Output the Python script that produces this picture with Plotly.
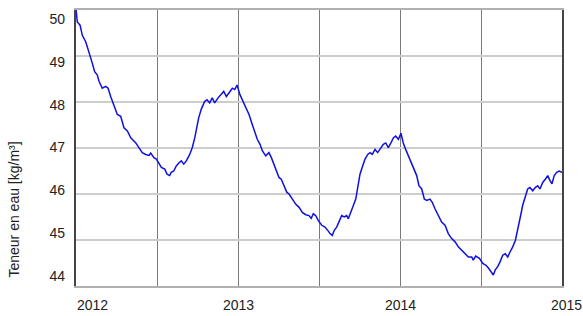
import plotly.graph_objects as go

# Decimal years
years = [
    2012.000, 2012.008, 2012.025, 2012.039, 2012.060, 2012.074, 2012.086, 2012.101, 2012.115, 2012.131,
    2012.142, 2012.162, 2012.183, 2012.198, 2012.214, 2012.235, 2012.255, 2012.276, 2012.296, 2012.317,
    2012.338, 2012.369, 2012.389, 2012.409, 2012.430, 2012.451, 2012.461, 2012.481, 2012.496, 2012.512,
    2012.527, 2012.548, 2012.562, 2012.578, 2012.588, 2012.603, 2012.619, 2012.636, 2012.650, 2012.665,
    2012.681, 2012.702, 2012.718, 2012.733, 2012.743, 2012.757, 2012.773, 2012.794, 2012.809, 2012.825,
    2012.841, 2012.856, 2012.877, 2012.897, 2012.912, 2012.928, 2012.949, 2012.965, 2012.980, 2012.994,
    2013.012, 2013.033, 2013.054, 2013.068, 2013.088, 2013.103, 2013.119, 2013.136, 2013.150, 2013.171,
    2013.191, 2013.206, 2013.222, 2013.239, 2013.253, 2013.267, 2013.284, 2013.301, 2013.315, 2013.335,
    2013.356, 2013.377, 2013.397, 2013.418, 2013.438, 2013.452, 2013.465, 2013.480, 2013.496, 2013.517,
    2013.537, 2013.554, 2013.568, 2013.582, 2013.594, 2013.609, 2013.623, 2013.640, 2013.656, 2013.671,
    2013.681, 2013.698, 2013.712, 2013.727, 2013.739, 2013.753, 2013.767, 2013.784, 2013.801, 2013.815,
    2013.829, 2013.846, 2013.862, 2013.877, 2013.897, 2013.912, 2013.928, 2013.944, 2013.959, 2013.973,
    2013.990, 2014.006, 2014.020, 2014.035, 2014.051, 2014.068, 2014.088, 2014.103, 2014.117, 2014.134,
    2014.150, 2014.165, 2014.185, 2014.199, 2014.216, 2014.236, 2014.257, 2014.278, 2014.298, 2014.319,
    2014.340, 2014.360, 2014.381, 2014.401, 2014.422, 2014.443, 2014.452, 2014.467, 2014.490, 2014.511,
    2014.531, 2014.548, 2014.562, 2014.576, 2014.588, 2014.603, 2014.617, 2014.634, 2014.650, 2014.665,
    2014.679, 2014.696, 2014.712, 2014.727, 2014.736, 2014.747, 2014.757, 2014.773, 2014.788, 2014.802,
    2014.819, 2014.835, 2014.850, 2014.864, 2014.881, 2014.897, 2014.912, 2014.926, 2014.938, 2014.952,
    2014.967, 2014.983, 2015.000,
]

# Water content [kg/m3]
water = [
    50.02, 49.74, 49.67, 49.45, 49.31, 49.16, 48.99, 48.84, 48.66, 48.59,
    48.45, 48.30, 48.34, 48.30, 48.12, 47.94, 47.73, 47.69, 47.44, 47.37,
    47.22, 47.11, 47.01, 46.90, 46.86, 46.84, 46.89, 46.79, 46.76, 46.65,
    46.58, 46.54, 46.43, 46.40, 46.47, 46.50, 46.61, 46.68, 46.72, 46.65,
    46.72, 46.86, 47.01, 47.22, 47.44, 47.65, 47.84, 48.01, 48.05, 47.98,
    48.09, 47.98, 48.09, 48.16, 48.23, 48.12, 48.23, 48.30, 48.27, 48.37,
    48.16, 48.01, 47.84, 47.73, 47.51, 47.37, 47.19, 47.08, 46.94, 46.83,
    46.90, 46.79, 46.65, 46.50, 46.36, 46.32, 46.18, 46.04, 46.00, 45.89,
    45.78, 45.71, 45.60, 45.55, 45.53, 45.47, 45.57, 45.53, 45.42, 45.32,
    45.28, 45.21, 45.14, 45.10, 45.21, 45.28, 45.39, 45.53, 45.50, 45.53,
    45.46, 45.64, 45.75, 45.89, 46.14, 46.43, 46.58, 46.76, 46.86, 46.90,
    46.86, 46.97, 46.90, 46.97, 47.08, 47.11, 47.01, 47.11, 47.22, 47.26,
    47.19, 47.32, 47.11, 46.97, 46.83, 46.68, 46.50, 46.40, 46.18, 46.11,
    45.89, 45.86, 45.89, 45.82, 45.68, 45.53, 45.39, 45.32, 45.14, 45.03,
    44.96, 44.85, 44.78, 44.70, 44.63, 44.63, 44.56, 44.65, 44.60, 44.49,
    44.45, 44.38, 44.31, 44.24, 44.35, 44.42, 44.52, 44.67, 44.70, 44.63,
    44.74, 44.85, 44.99, 45.21, 45.39, 45.57, 45.75, 45.93, 46.11, 46.14,
    46.07, 46.14, 46.18, 46.11, 46.25, 46.32, 46.40, 46.29, 46.22, 46.40,
    46.47, 46.50, 46.47,
]

x_grid = [2012, 2012.5, 2013, 2013.5, 2014, 2014.5, 2015]
x_labels = [2012, 2013, 2014, 2015]
y_ticks = [44, 45, 46, 47, 48, 49, 50]
y_title = "Teneur en eau [kg/m³]"

FONT = "Liberation Sans, Arial, sans-serif"

fig = go.Figure()
fig.add_trace(go.Scatter(
    x=years, y=water, mode="lines",
    line=dict(color="#1010e0", width=1.5),
    showlegend=False, hoverinfo="skip",
))
# invisible helper trace so the label axis is drawn
fig.add_trace(go.Scatter(
    x=[x_grid[0]], y=[y_ticks[0]], yaxis="y2", mode="markers",
    marker=dict(opacity=0), showlegend=False, hoverinfo="skip",
))

fig.update_layout(
    width=583, height=316,
    margin=dict(l=76, r=21, t=8, b=30),
    paper_bgcolor="white", plot_bgcolor="white",
    font=dict(family=FONT, size=14, color="#222222"),
    xaxis=dict(
        range=[2012, 2015], tickmode="array", tickvals=x_grid,
        showticklabels=False, ticks="",
        showgrid=True, gridcolor="#7a7a7a", gridwidth=1.3,
        showline=True, linecolor="#b0b0b0", linewidth=1.5, mirror=True,
        zeroline=False,
    ),
    yaxis=dict(
        range=[44, 50], tickmode="array", tickvals=y_ticks,
        showticklabels=False, ticks="",
        showgrid=True, gridcolor="#cdcdcd", gridwidth=1.5,
        showline=True, linecolor="#444444", linewidth=2, mirror=True,
        zeroline=False,
    ),
    yaxis2=dict(
        overlaying="y", side="left", anchor="x",
        range=[43.768, 50.208], tickmode="array", tickvals=y_ticks,
        showgrid=False, showline=False, zeroline=False, ticks="",
        ticklabelstandoff=10,
        tickfont=dict(family=FONT, size=14, color="#222222"),
    ),
)

for yr in x_labels:
    anchor = "left" if yr == x_labels[0] else "center"
    shift = -1 if yr == x_labels[0] else (4 if yr == x_labels[-1] else 0)
    fig.add_annotation(
        x=yr, xref="x", y=0, yref="paper", yshift=-19,
        text=str(yr), showarrow=False, xanchor=anchor, yanchor="middle",
        xshift=shift, font=dict(family=FONT, size=14, color="#222222"),
    )

fig.add_annotation(
    x=0, xref="paper", xshift=-62, y=0.277, yref="paper",
    text=y_title, textangle=-90, showarrow=False,
    xanchor="center", yanchor="middle",
    font=dict(family=FONT, size=14, color="#222222"),
)

fig.write_html(
    "out.html",
    config={"displayModeBar": False},
    post_script="document.body.style.margin='0px';",
)
